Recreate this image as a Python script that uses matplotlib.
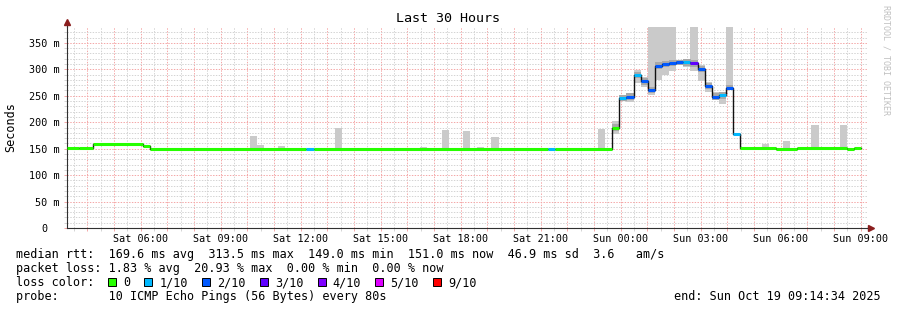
import matplotlib

matplotlib.use("Agg")
import matplotlib.pyplot as plt  # noqa: E402
import numpy as np  # noqa: E402
from matplotlib.patches import Rectangle  # noqa: E402

W, H = 897, 310
FONT = "DejaVu Sans Mono"
plt.rcParams["font.family"] = [FONT, "DejaVu Sans"]

# time axis in hours counted from Sat 00:00; graph ends Sun 09:14:34
END_H = 33 + 14 / 60 + 34 / 3600
SPAN_H = 30
STEP_H = 16 / 60  # rrd consolidation step

# median rtt as steps: start hour, value in ms, lost pings (of 10)
med_start = [3.24, 3.69, 4.22, 6.09, 6.36, 12.22, 12.49, 21.29, 21.56,
             23.69, 23.96, 24.22, 24.49, 24.76, 25.02, 25.29, 25.56, 25.82,
             26.09, 26.36, 26.62, 26.89, 27.16, 27.42, 27.69, 27.96, 28.22,
             28.49, 29.82, 30.62, 32.49, 32.76]
med_ms = [152, 150.5, 159.5, 155.5, 149.5, 149.5, 149.5, 149.5, 149.5,
          190, 246.5, 248.5, 289.5, 277, 261, 307, 309.5, 311.5,
          314.5, 313, 311, 301, 268.5, 248.5, 250.5, 264, 177,
          151.5, 149.5, 151.5, 149.5, 151.5]
med_loss = [0, 0, 0, 0, 0, 1, 0, 1, 0,
            0, 1, 2, 1, 2, 2, 2, 2, 2,
            2, 1, 3, 2, 2, 2, 1, 2, 1,
            0, 0, 0, 0, 0]
med_end = 33.02

# smoke (spread of the 10 pings) per step: start hour, max ms, min ms
smoke_start = [10.09, 10.36, 11.16, 13.29, 16.49, 17.29, 18.09, 18.62, 19.16,
               23.16, 23.69, 23.96, 24.22, 24.49, 24.76, 25.02, 25.29, 25.56,
               25.82, 26.09, 26.36, 26.62, 26.89, 27.16, 27.42, 27.69, 27.96,
               28.22, 29.29, 30.09, 31.16, 32.22]
smoke_hi = [174, 157, 155, 190, 153, 185, 183, 153, 172,
            187, 202, 251, 256, 299, 286, 380, 380, 380,
            380, 318, 320, 380, 308, 276, 258, 257, 380,
            179, 159.5, 164.5, 195, 195]
smoke_lo = [149, 149, 149, 149, 149, 149, 149, 149, 149,
            149, 178, 240, 239, 274, 267, 251.5, 280, 290,
            296, 309, 305, 296, 278, 257, 242, 234, 262,
            175, 149, 149, 149, 149]

x_tick_hours = [6, 9, 12, 15, 18, 21, 24, 27, 30, 33]
x_tick_labels = ["Sat 06:00", "Sat 09:00", "Sat 12:00", "Sat 15:00",
                 "Sat 18:00", "Sat 21:00", "Sun 00:00", "Sun 03:00",
                 "Sun 06:00", "Sun 09:00"]
y_ticks = [0, 50, 100, 150, 200, 250, 300, 350]
y_tick_labels = ["0  ", "50 m", "100 m", "150 m", "200 m", "250 m",
                 "300 m", "350 m"]

loss_names = ["0", "1/10", "2/10", "3/10", "4/10", "5/10", "9/10"]
loss_counts = [0, 1, 2, 3, 4, 5, 9]
loss_colors = ["#26ff00", "#00b8ff", "#0059ff", "#5e00ff", "#7e00ff",
               "#dd00ff", "#ff0000"]
LOSS_COLOR = dict(zip(loss_counts, loss_colors))

legend_rtt = ("median rtt:  169.6 ms avg  313.5 ms max  149.0 ms min  "
              "151.0 ms now  46.9 ms sd  3.6   am/s")
legend_loss = ("packet loss: 1.83 % avg  20.93 % max  0.00 % min  "
               "0.00 % now")
legend_probe = "probe:       10 ICMP Echo Pings (56 Bytes) every 80s"
legend_end = "end: Sun Oct 19 09:14:34 2025"

MGRID = "#f4a8a8"
GRID = "#d4d4d4"
ARROW = "#8b1e1e"
AXIS = "#303030"

fig = plt.figure(figsize=(W / 100, H / 100), dpi=100)
fig.patch.set_facecolor("white")
L, R, T, B = 67, 867, 27, 228
ax = fig.add_axes([L / W, 1 - B / H, (R - L) / W, (B - T) / H])
ax.set_facecolor("white")
ax.set_xlim(END_H - SPAN_H, END_H)
ax.set_ylim(0, 380)

# grid: hourly / 50 ms major (red), half-hour / 10 ms minor (grey)
hours = np.arange(np.ceil(END_H - SPAN_H), END_H)
lab = dict(zip(x_tick_hours, x_tick_labels))
ax.set_xticks(hours)
ax.set_xticklabels([lab.get(int(h), "") for h in hours])
ax.set_xticks(np.arange(np.ceil(END_H - SPAN_H) - 0.5, END_H, 1.0), minor=True)
ax.set_yticks(y_ticks)
ax.set_yticklabels(y_tick_labels)
ax.set_yticks(np.arange(0, 380, 10), minor=True)
dots = (0, (1.4, 1.4))
ax.grid(True, which="minor", color=GRID, linestyle=dots, lw=0.72)
ax.grid(True, which="major", color=MGRID, linestyle=dots, lw=0.72)
ax.set_axisbelow(True)
ax.tick_params(which="major", direction="out", length=2.2, width=0.7,
               color=MGRID, labelsize=7.3, labelcolor="black")
ax.tick_params(which="minor", direction="out", length=2.2, width=0.7,
               color=GRID)
ax.tick_params(axis="x", which="major", pad=2.0)
ax.tick_params(axis="y", which="major", pad=2.9)

for s in ("top", "right"):
    ax.spines[s].set_visible(False)
for s in ("left", "bottom"):
    ax.spines[s].set_color(AXIS)
    ax.spines[s].set_linewidth(0.8)

# smoke
mids = [med_ms[np.searchsorted(med_start, s + 0.01) - 1] for s in smoke_start]
ax.bar(smoke_start, np.subtract(smoke_hi, smoke_lo), bottom=smoke_lo,
       width=STEP_H, align="edge", color="#cacaca", lw=0, zorder=1)
for s, hi, lo, m in zip(smoke_start, smoke_hi, smoke_lo, mids):
    if lo > 160:
        a, b = max(lo, m - 6), min(hi, m + 6)
        ax.bar(s, b - a, bottom=a, width=STEP_H, align="edge",
               color="#a8a8a8", lw=0, zorder=1.5)

# median line, coloured by loss
xs = med_start + [med_end]
ax.step(xs, med_ms + [med_ms[-1]], where="post", color="#111111", lw=1.0,
        zorder=3)
ax.hlines(med_ms, med_start, xs[1:],
          colors=[LOSS_COLOR[k] for k in med_loss], lw=2.2, zorder=4)

# axis arrows
ax.plot([0, 0], [1, 1 + 4 / (B - T)], transform=ax.transAxes, color=AXIS,
        lw=0.8, clip_on=False)
ax.plot([0], [1 + 5 / (B - T)], transform=ax.transAxes, marker="^",
        ms=3.8, color=ARROW, clip_on=False)
ax.plot([1, 1 + 4 / (R - L)], [0, 0], transform=ax.transAxes, color=AXIS,
        lw=0.8, clip_on=False)
ax.plot([1 + 4 / (R - L)], [0], transform=ax.transAxes, marker=">",
        ms=3.8, color=ARROW, clip_on=False)


def px(x, y):
    return x / W, 1 - y / H


fig.text(*px(448, 19), "Last 30 Hours", fontsize=9.6, ha="center",
         va="center")
fig.text(*px(11, 127), "Seconds", fontsize=8.5, rotation=90, ha="center",
         va="center")
fig.text(*px(886, 60), "RRDTOOL / TOBI OETIKER", fontsize=6, rotation=270,
         ha="center", va="center", color="#c0c0c0")

LEG = 8.5
fig.text(*px(15.5, 258), legend_rtt, fontsize=LEG, va="baseline")
fig.text(*px(15.5, 272), legend_loss, fontsize=LEG, va="baseline")
fig.text(*px(15.5, 286), "loss color:", fontsize=LEG, va="baseline")
fig.text(*px(15.5, 300), legend_probe, fontsize=LEG, va="baseline")
fig.text(*px(881, 300), legend_end, fontsize=LEG, va="baseline", ha="right")

cw = 7.1
x = 108.0
for name, col in zip(loss_names, loss_colors):
    fig.add_artist(Rectangle(px(x, 286), 8 / W, 8 / H,
                             transform=fig.transFigure, facecolor=col,
                             edgecolor="black", lw=0.7))
    fig.text(*px(x + 15, 286), name, fontsize=LEG, va="baseline")
    x += 15 + len(name) * cw + 14.3

fig.savefig("out.png", dpi=100)
